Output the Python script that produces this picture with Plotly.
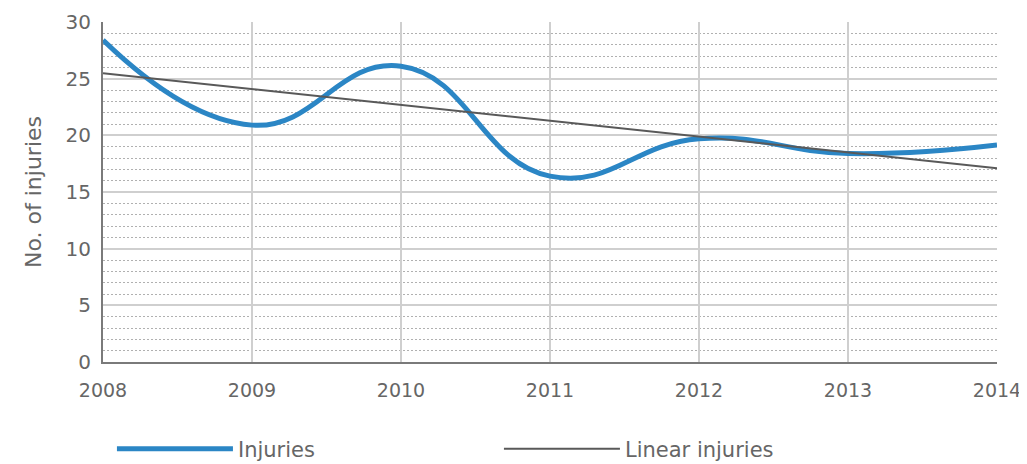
"""Injuries per year with a linear trend line."""

import numpy as np
import plotly.graph_objects as go

years = [2008, 2009, 2010, 2011, 2012, 2013, 2014]
injuries = [28.4, 20.9, 26.1, 16.4, 19.7, 18.4, 19.15]

FONT = "DejaVu Sans, Noto Sans, sans-serif"
TEXT = "#666666"

# least-squares trend, as Excel's "Linear" trendline does
slope, icept = np.polyfit(years, injuries, 1)
trend = [slope * y + icept for y in years]

fig = go.Figure()
fig.add_trace(
    go.Scatter(
        x=years,
        y=injuries,
        mode="lines",
        name="Injuries",
        line=dict(color="#2b86c5", width=5, shape="spline", smoothing=1.3),
    )
)
fig.add_trace(
    go.Scatter(
        x=years,
        y=trend,
        mode="lines",
        name="Linear injuries",
        line=dict(color="#595959", width=2),
    )
)

# the page body has an 8px margin, so the figure is shrunk by that much
fig.update_layout(
    width=1019,
    height=456,
    margin=dict(l=95, r=30, t=14, b=102, autoexpand=False),
    paper_bgcolor="white",
    plot_bgcolor="white",
    font=dict(family=FONT, size=20, color=TEXT),
    showlegend=True,
    legend=dict(
        orientation="h",
        x=0.01,
        xanchor="left",
        y=-0.256,
        yanchor="middle",
        itemwidth=116,
        entrywidth=256,
        entrywidthmode="pixels",
        font=dict(family=FONT, size=21, color=TEXT),
    ),
    xaxis=dict(
        range=[2008, 2014],
        tickvals=years,
        tickfont=dict(family=FONT, size=19, color=TEXT),
        ticks="",
        ticklabelstandoff=10,
        automargin=False,
        showgrid=True,
        gridcolor="#cfcfcf",
        gridwidth=1.5,
        showline=True,
        linecolor="#7a7a7a",
        linewidth=2,
        zeroline=False,
    ),
    yaxis=dict(
        range=[0, 30],
        dtick=5,
        ticks="",
        ticklabelstandoff=6,
        automargin=False,
        title=dict(
            text="No. of injuries",
            standoff=18,
            font=dict(family=FONT, size=22, color=TEXT),
        ),
        showgrid=True,
        gridcolor="#cfcfcf",
        gridwidth=1.5,
        showline=True,
        linecolor="#7a7a7a",
        linewidth=2,
        zeroline=False,
        minor=dict(dtick=1, showgrid=True, gridcolor="#b0b0b0", griddash="2px,2px", gridwidth=1),
    ),
)

fig.write_html("out.html")
